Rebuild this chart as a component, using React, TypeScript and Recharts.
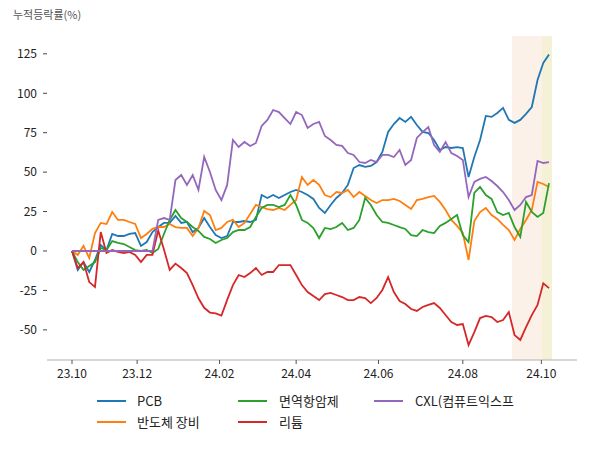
import { LineChart, Line, XAxis, YAxis, ReferenceArea, Legend } from "recharts";

// trading-day index of each month tick, and its label
const tickDays = [0, 34, 77, 117, 160, 204, 245];
const tickLabels = ["23.10", "23.12", "24.02", "24.04", "24.06", "24.08", "24.10"];
const yTicks = [-50, -25, 0, 25, 50, 75, 100, 125];

const seriesNames = ["PCB", "반도체 장비", "면역항암제", "리튬", "CXL(컴퓨트익스프"];
const seriesColors = ["#1f77b4", "#ff7f0e", "#2ca02c", "#d62728", "#9467bd"];

// cumulative return (%), one value every 3 trading days
const pcb = [
  0, -12, -7, -13.3, -5.7, 3.8, 0.6, 10.8, 9.5, 9.5, 10.8, 11.4, 3.2, 5.7, 12, 15.2, 17.8, 17.8, 22.2, 17.8,
  18.4, 12, 14.6, 20.9, 15.2, 10.1, 8.2, 9.5, 18.4, 18.4, 19, 18.4, 19.7, 35.5, 33.6, 35.5, 33.6, 35.5, 37.4, 38.7,
  37.4, 35.5, 33, 27.3, 24.1, 29.2, 33.6, 36.8, 41.9, 52.6, 54.5, 53.3, 53.9, 56.4, 62.8, 75.5, 80.5, 84.3, 81.8, 85,
  79.9, 75.5, 74.8, 70.4, 64, 65.9, 65.3, 65.9, 65.3, 46.9, 59.6, 70.4, 85.6, 85, 87.5, 90.7, 83.1, 81.2, 83.1, 86.9,
  91.3, 108.4, 119.2, 124.5,
];
const semiEquip = [
  0, -2.5, 3.2, -4.4, 11.4, 17.8, 17.1, 24.7, 19.7, 19.7, 18.4, 17.1, 8.2, 10.8, 14, 15.2, 15.2, 17.1, 15.2, 14.6,
  14.6, 9.5, 14.6, 25.4, 22.8, 13.3, 14.6, 18.4, 19.7, 15.2, 17.8, 23.5, 29.2, 27.9, 26.6, 26, 27.3, 26, 29.2, 32.3,
  46.9, 41.9, 45, 41.9, 35.5, 34.2, 37.4, 36.8, 38.7, 34.2, 37.4, 34.9, 32.3, 30.4, 32.3, 32.3, 33, 31.7, 29.2, 26.6,
  32.3, 33, 34.2, 34.9, 31.1, 26, 19.7, 15.9, 11.4, -5.7, 19, 24.7, 27.3, 22.8, 20.3, 16.5, 13.3, 7, 14, 19.7,
  26, 43.8, 42.5, 40.6,
];
const immuno = [
  0, -7, -12, -9.5, -7, 1.9, 0.6, 6.3, 5.1, 4.4, 2.5, 0.6, 0, 0.6, -1.3, 1.3, 10.8, 19.7, 26, 20.9,
  18.4, 15.2, 12.7, 8.9, 7.6, 5.1, 7, 8.2, 12, 13.3, 13.3, 15.2, 21.6, 27.3, 29.2, 29.2, 27.9, 29.2, 35.5, 29.2,
  19.7, 17.8, 14.6, 8.2, 14.6, 13.9, 15.2, 17.8, 13.3, 14.6, 19.7, 33.6, 29.2, 22.8, 18.4, 17.8, 16.5, 15.2, 14, 10.1,
  9.5, 13.3, 12, 11.4, 15.9, 17.8, 20.3, 22.8, 10, 5.7, 36.8, 40.6, 35.5, 33, 24.7, 22.8, 24.1, 15.2, 9, 31.1,
  24.7, 21.6, 24.1, 43,
];
const lithium = [
  0, -10.8, -7, -19.7, -22.8, 12, -1.3, 0.6, -0.6, -1.3, -0.6, -2.5, -7, -2.5, -2.5, 13, 1, -12, -8, -10.8,
  -14, -21.6, -30, -36, -39, -39.5, -41, -31, -21.6, -15.2, -16.5, -14, -10.8, -15.2, -13.3, -13.3, -8.9, -8.9, -8.9, -15.2,
  -21.6, -26, -28.5, -31.1, -27.3, -26.6, -27.9, -29.2, -31.1, -31.1, -29.2, -29.8, -33, -29.8, -24.7, -16.5, -26, -31.7, -33.6, -36.8,
  -38, -35.5, -34.2, -33, -36.1, -40.6, -45, -46.9, -46.3, -59.6, -51.4, -42.5, -41.2, -41.9, -45, -43.8, -38.7, -53.3, -56.4, -48.2,
  -40.6, -34.2, -20.5, -23.5,
];
const cxl = [
  0, 0, 0, 0, 0, 0, 0, 0, 0, 0, 0, 0, 0, 0, 0, 19.7, 20.9, 19.7, 45, 48.2,
  41.9, 48.2, 38.7, 59.6, 50.1, 38.7, 32.3, 41.9, 70.4, 65.9, 69.1, 66.6, 68.5, 79.3, 83.1, 89.4, 88.1, 84.3, 80.5, 88.1,
  86.2, 78, 80.5, 81.8, 72.9, 70.4, 67.2, 66.6, 62.1, 60.9, 56.4, 55.8, 57.7, 56.4, 60.9, 60.9, 59.6, 64, 54.5, 57.7,
  71.7, 75.4, 78.6, 67.2, 62.8, 69.1, 62.1, 60.2, 57.7, 34.2, 43.8, 45.7, 46.9, 44.4, 41.2, 37.4, 32.3, 26, 29.2, 34.2,
  35.5, 57.1, 55.8, 56.4,
];

const seriesValues = [pcb, semiEquip, immuno, lithium, cxl];
const days = pcb.map((_, i) => i * 3);

const data = days.map((day, i) => {
  const row: { [key: string]: number } = { day };
  seriesValues.forEach((vals, s) => {
    row["s" + s] = vals[i];
  });
  return row;
});

const FONT = '"Noto Sans CJK KR", "Noto Sans", sans-serif';

// legend: 3 columns, filled top-to-bottom
const legendCols = [[0, 1], [2, 3], [4]];
const legendLineX = [97, 238, 374];
const legendTextX = [137, 279, 415];

const renderLegend = () => (
  <div style={{ position: "relative", width: 600, height: 46, fontFamily: FONT, fontSize: 13, color: "#222" }}>
    {legendCols.map((col, c) =>
      col.map((s, r) => (
        <div key={s}>
          <div
            style={{
              position: "absolute",
              left: legendLineX[c],
              top: 12 + r * 21,
              width: 29,
              height: 2,
              background: seriesColors[s],
            }}
          />
          <div
            style={{
              position: "absolute",
              left: legendTextX[c],
              top: 3 + r * 21,
              lineHeight: "20px",
              whiteSpace: "nowrap",
            }}
          >
            {seriesNames[s]}
          </div>
        </div>
      ))
    )}
  </div>
);

export default function App() {
  return (
    <div style={{ position: "absolute", left: 0, top: 0, width: 600, height: 450, background: "#fff" }}>
      <div
        style={{
          position: "absolute",
          left: 13,
          top: 8,
          fontFamily: FONT,
          fontSize: 11,
          lineHeight: "12px",
          color: "#555",
          whiteSpace: "nowrap",
        }}
      >
        누적등락률(%)
      </div>
      <LineChart width={600} height={450} data={data} margin={{ top: 36, right: 23, bottom: 60, left: 0 }}>
        <ReferenceArea x1={229.7} x2={245.3} fill="#fbf1e8" fillOpacity={1} stroke="none" />
        <ReferenceArea x1={245.3} x2={250.6} fill="#f5f1d6" fillOpacity={1} stroke="none" />
        <XAxis
          dataKey="day"
          type="number"
          domain={[-13.05, 263.6]}
          ticks={tickDays}
          tickFormatter={(v: number) => tickLabels[tickDays.indexOf(v)]}
          height={30}
          stroke="#b0b0b0"
          tickSize={4}
          tickMargin={5}
          tick={{ fill: "#222", fontSize: 12, fontFamily: FONT }}
          tickLine={{ stroke: "#555" }}
          allowDataOverflow
        />
        <YAxis
          type="number"
          domain={[-69.1, 136.3]}
          ticks={yTicks}
          width={47}
          axisLine={false}
          tickSize={4}
          tickMargin={6}
          tick={{ fill: "#222", fontSize: 12, fontFamily: FONT }}
          tickLine={{ stroke: "#444" }}
          allowDataOverflow
        />
        <Legend
          layout="horizontal"
          verticalAlign="middle"
          align="center"
          content={renderLegend}
          wrapperStyle={{ top: 388, left: 0, width: 600, height: 46 }}
        />
        {seriesValues.map((_, s) => (
          <Line
            key={s}
            type="linear"
            dataKey={"s" + s}
            name={seriesNames[s]}
            stroke={seriesColors[s]}
            strokeWidth={1.8}
            dot={false}
            isAnimationActive={false}
          />
        ))}
      </LineChart>
    </div>
  );
}
